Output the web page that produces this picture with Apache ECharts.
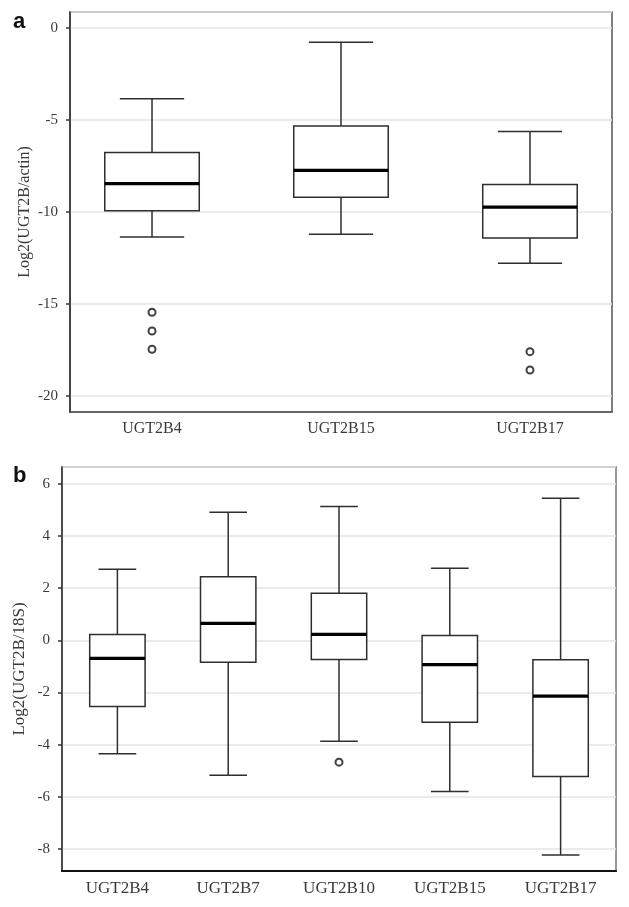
<!DOCTYPE html>
<html>
<head>
<meta charset="utf-8">
<script src="https://cdn.jsdelivr.net/npm/echarts@6/dist/echarts.min.js"></script>
<style>html,body{margin:0;padding:0;background:#fff}#c{width:629px;height:907px}</style>
</head>
<body>
<div id="c"></div>
<script>
// Panel a data: Log2(UGT2B/actin)
const catsA = ['UGT2B4', 'UGT2B15', 'UGT2B17'];
const lowA  = [-11.36, -11.21, -12.79];
const q1A   = [-9.93, -9.20, -11.41];
const medA  = [-8.46, -7.74, -9.73];
const q3A   = [-6.76, -5.33, -8.51];
const highA = [-3.84, -0.78, -5.63];
const outCatA = [0, 0, 0, 2, 2];
const outValA = [-15.45, -16.47, -17.46, -17.59, -18.59];

// Panel b data: Log2(UGT2B/18S)
const catsB = ['UGT2B4', 'UGT2B7', 'UGT2B10', 'UGT2B15', 'UGT2B17'];
const lowB  = [-4.35, -5.17, -3.87, -5.79, -8.23];
const q1B   = [-2.54, -0.84, -0.74, -3.14, -5.22];
const medB  = [-0.69, 0.65, 0.23, -0.93, -2.14];
const q3B   = [0.22, 2.43, 1.80, 0.18, -0.75];
const highB = [2.72, 4.91, 5.13, 2.76, 5.44];
const outCatB = [2];
const outValB = [-4.67];

const serif = 'Liberation Serif';
const txt = '#3a3a3a';

function boxData(lo, q1, med, q3, hi) {
  return lo.map((v, i) => [i, lo[i], q1[i], med[i], q3[i], hi[i]]);
}

function renderBox(params, api) {
  const x = api.value(0);
  const lo = api.coord([x, api.value(1)]);
  const q1 = api.coord([x, api.value(2)]);
  const med = api.coord([x, api.value(3)]);
  const q3 = api.coord([x, api.value(4)]);
  const hi = api.coord([x, api.value(5)]);
  const bw = api.size([0.5, 0], [x, 0])[0];
  const cw = api.size([0.34, 0], [x, 0])[0];
  const cx = lo[0];
  const st = { stroke: '#2e2e2e', lineWidth: 1.5, fill: null };
  return {
    type: 'group',
    children: [
      { type: 'line', shape: { x1: cx, y1: hi[1], x2: cx, y2: q3[1] }, style: st },
      { type: 'line', shape: { x1: cx, y1: q1[1], x2: cx, y2: lo[1] }, style: st },
      { type: 'line', shape: { x1: cx - cw / 2, y1: hi[1], x2: cx + cw / 2, y2: hi[1] }, style: st },
      { type: 'line', shape: { x1: cx - cw / 2, y1: lo[1], x2: cx + cw / 2, y2: lo[1] }, style: st },
      { type: 'rect', shape: { x: cx - bw / 2, y: q3[1], width: bw, height: q1[1] - q3[1] },
        style: { fill: '#fff', stroke: '#2e2e2e', lineWidth: 1.5 } },
      { type: 'line', shape: { x1: cx - bw / 2, y1: med[1], x2: cx + bw / 2, y2: med[1] },
        style: { stroke: '#000', lineWidth: 3.2 } }
    ]
  };
}

function xAxisCfg(gridIndex, cats, min, max, fontSize, lineColor, lineWidth, margin) {
  return {
    type: 'value', gridIndex, min, max,
    axisLine: { show: true, onZero: false, lineStyle: { color: lineColor, width: lineWidth } },
    axisTick: { show: false },
    splitLine: { show: false },
    axisLabel: {
      customValues: cats.map((c, i) => i),
      formatter: v => cats[Math.round(v)],
      fontFamily: serif, fontSize, color: txt, margin
    }
  };
}

function yAxisCfg(gridIndex, name, min, max, splitNumber, nameSize, nameGap) {
  return {
    type: 'value', gridIndex, min, max, splitNumber,
    name, nameLocation: 'middle', nameGap, nameMoveOverlap: false,
    nameTextStyle: { fontFamily: serif, fontSize: nameSize, color: txt },
    axisLine: { show: true, onZero: false, lineStyle: { color: '#333', width: 1.5 } },
    axisTick: { show: true, length: 4, lineStyle: { color: '#333', width: 1.5 } },
    axisLabel: { fontFamily: serif, fontSize: 15, color: txt, margin: 12,
      showMinLabel: false, showMaxLabel: false },
    splitLine: { show: true, lineStyle: { color: '#e4e4e4', width: 1.5 } }
  };
}

const outlierStyle = { color: '#111', borderColor: '#111', borderWidth: 1.6 };

const chart = echarts.init(document.getElementById('c'), null, { renderer: 'canvas' });
chart.setOption({
  animation: false,
  backgroundColor: '#fff',
  title: [
    { text: 'a', left: 8, top: 6, textStyle: { fontFamily: 'Liberation Sans', fontWeight: 'bold', fontSize: 22, color: '#111' } },
    { text: 'b', left: 8, top: 460, textStyle: { fontFamily: 'Liberation Sans', fontWeight: 'bold', fontSize: 22, color: '#111' } }
  ],
  grid: [
    { left: 70, top: 12, width: 542, height: 400, show: true, borderColor: '#555', borderWidth: 1.5, backgroundColor: 'transparent' },
    { left: 62, top: 467, width: 554, height: 404, show: true, borderColor: '#999', borderWidth: 2, backgroundColor: 'transparent' }
  ],
  xAxis: [
    xAxisCfg(0, catsA, -0.434, 2.434, 16, '#444', 1.5, 9),
    xAxisCfg(1, catsB, -0.5, 4.5, 17, '#111', 2.2, 9)
  ],
  yAxis: [
    yAxisCfg(0, 'Log2(UGT2B/actin)', -20.87, 0.87, 5, 16, 37),
    yAxisCfg(1, 'Log2(UGT2B/18S)', -8.84, 6.64, 7, 17, 34)
  ],
  series: [
    { type: 'custom', xAxisIndex: 0, yAxisIndex: 0, renderItem: renderBox,
      encode: { x: 0, y: [1, 2, 3, 4, 5] }, data: boxData(lowA, q1A, medA, q3A, highA), z: 3 },
    { type: 'scatter', xAxisIndex: 0, yAxisIndex: 0, symbol: 'emptyCircle', symbolSize: 7,
      itemStyle: outlierStyle,
      data: outCatA.map((c, i) => [c, outValA[i]]), z: 4 },
    { type: 'custom', xAxisIndex: 1, yAxisIndex: 1, renderItem: renderBox,
      encode: { x: 0, y: [1, 2, 3, 4, 5] }, data: boxData(lowB, q1B, medB, q3B, highB), z: 3 },
    { type: 'scatter', xAxisIndex: 1, yAxisIndex: 1, symbol: 'emptyCircle', symbolSize: 7,
      itemStyle: outlierStyle,
      data: outCatB.map((c, i) => [c, outValB[i]]), z: 4 }
  ]
});
</script>
</body>
</html>
